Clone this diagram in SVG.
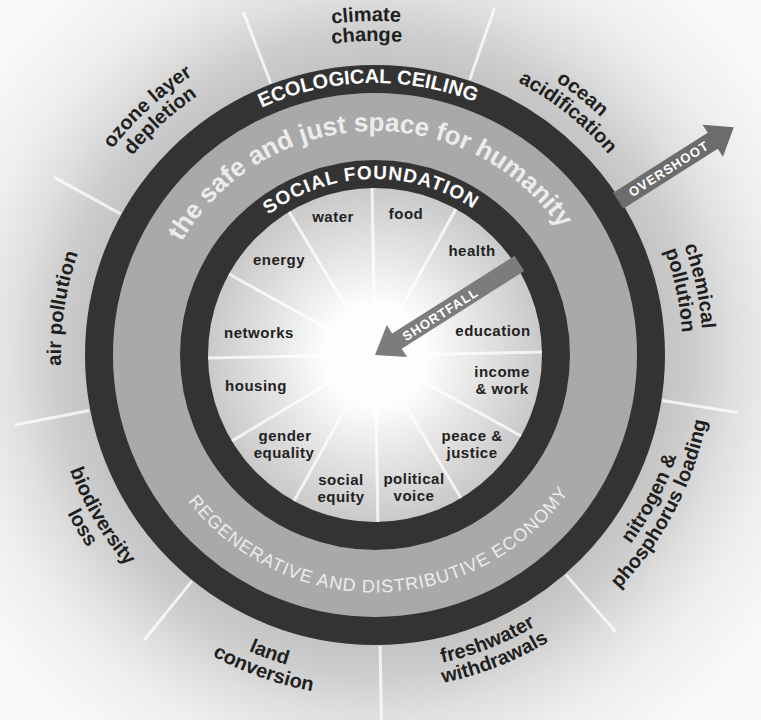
<svg xmlns="http://www.w3.org/2000/svg" width="761" height="720" viewBox="0 0 761 720">
<style>
.out{font-family:"Liberation Sans",Arial,sans-serif;font-weight:bold;font-size:20px;fill:#1f1f1f;text-anchor:middle}
.soc{font-family:"Liberation Sans",Arial,sans-serif;font-weight:bold;font-size:15px;letter-spacing:0.5px;fill:#222;text-anchor:middle}
.rl{font-family:"Liberation Sans",Arial,sans-serif;font-weight:bold;fill:#ffffff;text-anchor:middle}
.band{font-family:"Liberation Sans",Arial,sans-serif;fill:#ececec;text-anchor:middle}
.spk{stroke:#ffffff;stroke-width:3;opacity:0.75}
.arr{font-family:"Liberation Sans",Arial,sans-serif;font-weight:bold;font-size:13px;fill:#ffffff;text-anchor:middle;letter-spacing:1px}
</style>
<defs>
<radialGradient id="bg" gradientUnits="userSpaceOnUse" cx="375" cy="355" r="470">
<stop offset="0.6" stop-color="#c2c2c2"/>
<stop offset="0.68" stop-color="#cdcdcd"/>
<stop offset="0.77" stop-color="#e0e0e0"/>
<stop offset="0.86" stop-color="#eeeeee"/>
<stop offset="1" stop-color="#f8f8f8"/>
</radialGradient>
<radialGradient id="inner" gradientUnits="userSpaceOnUse" cx="375" cy="355" r="170">
<stop offset="0" stop-color="#ffffff"/>
<stop offset="0.3" stop-color="#fdfdfd"/>
<stop offset="0.6" stop-color="#e6e6e6"/>
<stop offset="1" stop-color="#c8c8c8"/>
</radialGradient>
<path id="t308" d="M71.68,301.52 A308,308 0 0 1 678.32,301.52"/>
<path id="t314" d="M65.77,300.47 A314,314 0 0 1 684.23,300.47"/>
<path id="t328" d="M51.98,298.04 A328,328 0 0 1 698.02,298.04"/>
<path id="t334" d="M46.07,297 A334,334 0 0 1 703.93,297"/>
<path id="t272" d="M107.13,307.77 A272,272 0 0 1 642.87,307.77"/>
<path id="t176" d="M201.67,324.44 A176,176 0 0 1 548.33,324.44"/>
<path id="t224" d="M154.4,316.1 A224,224 0 0 1 595.6,316.1"/>
<path id="b237" d="M141.11,396.24 A237.5,237.5 0 0 0 608.89,396.24"/>
<path id="b315" d="M64.78,409.7 A315,315 0 0 0 685.22,409.7"/>
<path id="b318" d="M61.83,410.22 A318,318 0 0 0 688.17,410.22"/>
<path id="b322" d="M57.89,410.92 A322,322 0 0 0 692.11,410.92"/>
<path id="b326" d="M53.95,411.61 A326,326 0 0 0 696.05,411.61"/>
<path id="b335" d="M45.09,413.17 A335,335 0 0 0 704.91,413.17"/>
<path id="b338" d="M42.13,413.69 A338,338 0 0 0 707.87,413.69"/>
<path id="b342" d="M38.19,414.39 A342,342 0 0 0 711.81,414.39"/>
<path id="b346" d="M34.26,415.08 A346,346 0 0 0 715.74,415.08"/>
<line id="ospk" class="spk" x1="375" y1="64" x2="375" y2="-12"/>
<line id="ispk" class="spk" x1="375" y1="320" x2="375" y2="188"/>
</defs>

<rect x="0" y="0" width="761" height="720" fill="url(#bg)"/>

<g id="doughnut">
<circle cx="375" cy="355" r="167" fill="url(#inner)"/>
<circle cx="375" cy="355" r="228.5" fill="none" stroke="#a9a9a9" stroke-width="67"/>
<circle cx="375" cy="355" r="276" fill="none" stroke="#333333" stroke-width="28"/>
<circle cx="375" cy="355" r="181" fill="none" stroke="#333333" stroke-width="28"/>
</g>

<g id="spokes">
<use href="#ospk" transform="rotate(-21 375 355)"/>
<use href="#ospk" transform="rotate(19 375 355)"/>
<use href="#ospk" transform="rotate(57.6 375 355)"/>
<use href="#ospk" transform="rotate(99 375 355)"/>
<use href="#ospk" transform="rotate(139 375 355)"/>
<use href="#ospk" transform="rotate(179 375 355)"/>
<use href="#ospk" transform="rotate(219 375 355)"/>
<use href="#ospk" transform="rotate(259 375 355)"/>
<use href="#ospk" transform="rotate(299 375 355)"/>
<use href="#ispk" transform="rotate(-1 375 355)"/>
<use href="#ispk" transform="rotate(29 375 355)"/>
<use href="#ispk" transform="rotate(59 375 355)"/>
<use href="#ispk" transform="rotate(89 375 355)"/>
<use href="#ispk" transform="rotate(119 375 355)"/>
<use href="#ispk" transform="rotate(149 375 355)"/>
<use href="#ispk" transform="rotate(179 375 355)"/>
<use href="#ispk" transform="rotate(209 375 355)"/>
<use href="#ispk" transform="rotate(239 375 355)"/>
<use href="#ispk" transform="rotate(269 375 355)"/>
<use href="#ispk" transform="rotate(299 375 355)"/>
<use href="#ispk" transform="rotate(329 375 355)"/>
</g>

<g id="ring-labels">
<text class="rl" font-size="20" transform="rotate(-1.5 375 355)"><textPath href="#t272" startOffset="50%">ECOLOGICAL CEILING</textPath></text>
<text class="rl" font-size="19" letter-spacing="1" transform="rotate(-1.5 375 355)"><textPath href="#t176" startOffset="50%">SOCIAL FOUNDATION</textPath></text>
<text class="band" font-size="26" font-weight="bold" transform="rotate(-2 375 355)"><textPath href="#t224" startOffset="50%">the safe and just space for humanity</textPath></text>
<text class="band" font-size="18" letter-spacing="0.9" transform="rotate(-1.4 375 355)"><textPath href="#b237" startOffset="50%">REGENERATIVE AND DISTRIBUTIVE ECONOMY</textPath></text>
</g>

<g id="ecological-ceiling">
<g id="climate-change">
<text class="out" transform="rotate(-1.5 375 355)"><textPath href="#t334" startOffset="50%">climate</textPath></text>
<text class="out" transform="rotate(-1.5 375 355)"><textPath href="#t314" startOffset="50%">change</textPath></text>
</g>
<g id="ocean-acidification">
<text class="out" transform="rotate(38.5 375 355)"><textPath href="#t328" startOffset="50%">ocean</textPath></text>
<text class="out" transform="rotate(38.5 375 355)"><textPath href="#t308" startOffset="50%">acidification</textPath></text>
</g>
<g id="chemical-pollution">
<text class="out" transform="rotate(78 375 355)"><textPath href="#t328" startOffset="50%">chemical</textPath></text>
<text class="out" transform="rotate(78 375 355)"><textPath href="#t308" startOffset="50%">pollution</textPath></text>
</g>
<g id="nitrogen-phosphorus">
<text class="out" transform="rotate(-62.5 375 355)"><textPath href="#b318" startOffset="50%">nitrogen &amp;</textPath></text>
<text class="out" transform="rotate(-62.5 375 355)"><textPath href="#b338" startOffset="50%">phosphorus loading</textPath></text>
</g>
<g id="freshwater-withdrawals">
<text class="out" transform="rotate(-21.5 375 355)"><textPath href="#b315" startOffset="50%">freshwater</textPath></text>
<text class="out" transform="rotate(-21.5 375 355)"><textPath href="#b335" startOffset="50%">withdrawals</textPath></text>
</g>
<g id="land-conversion">
<text class="out" transform="rotate(19.5 375 355)"><textPath href="#b322" startOffset="50%">land</textPath></text>
<text class="out" transform="rotate(19.5 375 355)"><textPath href="#b342" startOffset="50%">conversion</textPath></text>
</g>
<g id="biodiversity-loss">
<text class="out" transform="rotate(59.5 375 355)"><textPath href="#b326" startOffset="50%">biodiversity</textPath></text>
<text class="out" transform="rotate(59.5 375 355)"><textPath href="#b346" startOffset="50%">loss</textPath></text>
</g>
<g id="air-pollution">
<text class="out" transform="rotate(-81.5 375 355)"><textPath href="#t314" startOffset="50%">air pollution</textPath></text>
</g>
<g id="ozone-depletion">
<text class="out" transform="rotate(-42.5 375 355)"><textPath href="#t334" startOffset="50%">ozone layer</textPath></text>
<text class="out" transform="rotate(-42.5 375 355)"><textPath href="#t314" startOffset="50%">depletion</textPath></text>
</g>
</g>

<g id="social-foundation">
<g id="water"><text class="soc" x="333" y="222">water</text></g>
<g id="food"><text class="soc" x="406" y="219">food</text></g>
<g id="health"><text class="soc" x="472" y="256">health</text></g>
<g id="energy"><text class="soc" x="279" y="265">energy</text></g>
<g id="networks"><text class="soc" x="259" y="338">networks</text></g>
<g id="education"><text class="soc" x="493" y="336">education</text></g>
<g id="housing"><text class="soc" x="256" y="391">housing</text></g>
<g id="income-work"><text class="soc" x="502" y="377">income</text><text class="soc" x="502" y="394">&amp; work</text></g>
<g id="gender-equality"><text class="soc" x="285" y="441">gender</text><text class="soc" x="284" y="458">equality</text></g>
<g id="peace-justice"><text class="soc" x="472" y="441">peace &amp;</text><text class="soc" x="472" y="458">justice</text></g>
<g id="social-equity"><text class="soc" x="341" y="485">social</text><text class="soc" x="341" y="502">equity</text></g>
<g id="political-voice"><text class="soc" x="414" y="484">political</text><text class="soc" x="414" y="501">voice</text></g>
</g>

<g id="connectors">
<g id="overshoot">
<polygon points="365.5,67 384.5,67 384.5,-45 394,-45 375,-70 356,-45 365.5,-45" fill="#6c6c6c" transform="rotate(57.6 375 355)"/>
<text class="arr" transform="translate(668.6 168.7) rotate(-32.4)" y="4.6">OVERSHOOT</text>
</g>
<g id="shortfall">
<polygon points="375,355 356,329 366,329 366,184 384,184 384,329 394,329" fill="#7c7c7c" transform="rotate(57.6 375 355)"/>
<text class="arr" transform="translate(440.3 314.2) rotate(-32.4)" y="4.6">SHORTFALL</text>
</g>
</g>
</svg>
